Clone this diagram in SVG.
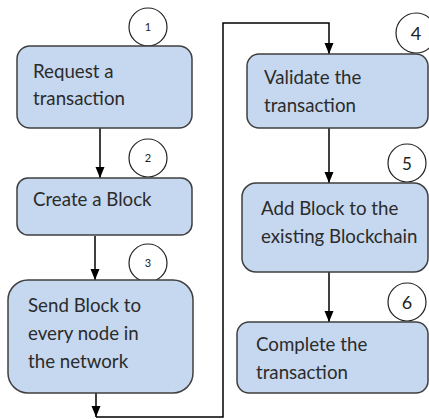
<svg xmlns="http://www.w3.org/2000/svg" width="429" height="419" viewBox="0 0 429 419">
<defs>
<marker id="ah" markerWidth="12" markerHeight="12" viewBox="0 0 12 12" refX="11" refY="6" orient="auto" markerUnits="userSpaceOnUse">
<path d="M0,1.5 L11,6 L0,10.5 Z" fill="#000"/>
</marker>
<style>
.box{fill:#c6d8ef;stroke:#3f3f3f;stroke-width:1.5}
.t{font-family:Lato,"Open Sans","Liberation Sans",sans-serif;font-size:18.7px;fill:#2b2b2b}
.c{fill:#fff;stroke:#222;stroke-width:1.2}
.n{font-family:Lato,"Liberation Sans",sans-serif;fill:#222;text-anchor:middle}
.ln{fill:none;stroke:#000;stroke-width:1.5}
</style>
</defs>
<rect width="429" height="419" fill="#fff"/>
<g id="connectors">
<line class="ln" x1="100" y1="128" x2="100" y2="178" marker-end="url(#ah)"/>
<line class="ln" x1="95" y1="236" x2="95" y2="280" marker-end="url(#ah)"/>
<line class="ln" x1="96" y1="393" x2="96" y2="417" marker-end="url(#ah)"/>
<polyline class="ln" points="96,417 223,417 223,23 329,23 329,54" marker-end="url(#ah)"/>
<line class="ln" x1="329" y1="128" x2="329" y2="183" marker-end="url(#ah)"/>
<line class="ln" x1="329" y1="272" x2="329" y2="322" marker-end="url(#ah)"/>
</g>
<g id="step1">
<circle class="c" cx="148" cy="27" r="19"/>
<text class="n" x="148" y="31" font-size="11">1</text>
<rect class="box" x="17" y="46" width="175" height="82" rx="13"/>
<text class="t" x="33" y="78">Request a</text>
<text class="t" x="33" y="105">transaction</text>
</g>
<g id="step2">
<circle class="c" cx="148" cy="158" r="19"/>
<text class="n" x="148" y="162" font-size="11">2</text>
<rect class="box" x="17" y="178" width="175" height="57" rx="11"/>
<text class="t" x="33" y="206">Create a Block</text>
</g>
<g id="step3">
<circle class="c" cx="148" cy="263" r="19"/>
<text class="n" x="148" y="267" font-size="11">3</text>
<rect class="box" x="8" y="280" width="185" height="113" rx="20"/>
<text class="t" x="28" y="312">Send Block to</text>
<text class="t" x="28" y="340">every node in</text>
<text class="t" x="28" y="368">the network</text>
</g>
<g id="step4">
<circle class="c" cx="416" cy="33" r="20"/>
<text class="n" x="416" y="40" font-size="18">4</text>
<rect class="box" x="247" y="54" width="181" height="74" rx="12"/>
<text class="t" x="264" y="84">Validate the</text>
<text class="t" x="264" y="112">transaction</text>
</g>
<g id="step5">
<circle class="c" cx="407" cy="163" r="19"/>
<text class="n" x="407" y="170" font-size="17">5</text>
<rect class="box" x="242" y="183" width="186" height="89" rx="14"/>
<text class="t" x="261" y="215">Add Block to the</text>
<text class="t" x="261" y="243">existing Blockchain</text>
</g>
<g id="step6">
<circle class="c" cx="407" cy="302" r="19"/>
<text class="n" x="407" y="309" font-size="18">6</text>
<rect class="box" x="237" y="322" width="191" height="71" rx="12"/>
<text class="t" x="256" y="351">Complete the</text>
<text class="t" x="256" y="379">transaction</text>
</g>
</svg>
